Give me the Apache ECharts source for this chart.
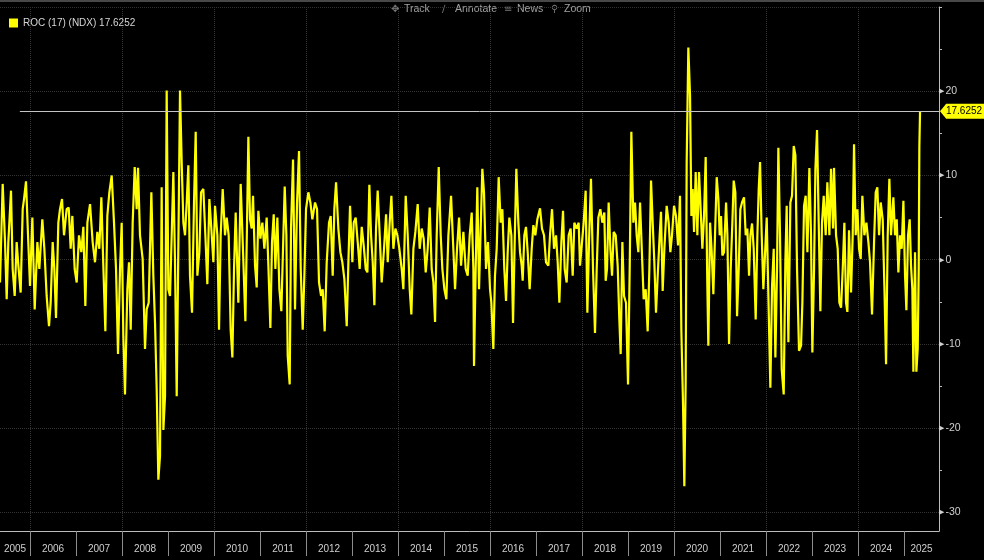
<!DOCTYPE html>
<html><head><meta charset="utf-8">
<script src="https://cdn.jsdelivr.net/npm/echarts@6/dist/echarts.min.js"></script>
<style>html,body{margin:0;padding:0;background:#000;}#c{width:984px;height:560px;}</style>
</head><body><div id="c"></div>
<script>
const seriesName = 'ROC (17) (NDX)';
// fractional-year dates of the points
const dates = [
2005.348,2005.406,2005.457,2005.493,2005.529,2005.587,2005.623,2005.667,2005.710,2005.747,2005.797,2005.841,2005.870,2005.913,2005.957,
2006.000,2006.051,2006.102,2006.160,2006.203,2006.268,2006.312,2006.362,2006.413,2006.449,2006.493,2006.529,2006.565,2006.616,2006.652,2006.696,2006.739,2006.797,2006.841,2006.884,2006.920,2006.971,
2007.015,2007.065,2007.116,2007.160,2007.203,2007.247,2007.305,2007.362,2007.413,2007.464,2007.507,2007.551,2007.594,2007.638,2007.681,2007.725,2007.776,2007.826,2007.870,2007.913,2007.957,2007.993,
2008.029,2008.065,2008.116,2008.152,2008.189,2008.232,2008.276,2008.319,2008.348,2008.391,2008.449,2008.500,2008.536,2008.580,2008.638,2008.681,2008.718,2008.754,2008.790,2008.826,2008.862,2008.899,2008.935,2008.971,
2009.007,2009.044,2009.080,2009.116,2009.152,2009.189,2009.225,2009.261,2009.297,2009.334,2009.370,2009.406,2009.442,2009.478,2009.522,2009.565,2009.602,2009.638,2009.681,2009.718,2009.768,2009.812,2009.855,2009.899,2009.942,2009.986,
2010.022,2010.073,2010.109,2010.145,2010.189,2010.239,2010.276,2010.319,2010.362,2010.399,2010.435,2010.471,2010.529,2010.580,2010.624,2010.682,2010.718,2010.747,2010.783,2010.819,2010.848,2010.892,2010.928,2010.964,
2011.008,2011.051,2011.095,2011.145,2011.182,2011.225,2011.261,2011.298,2011.334,2011.377,2011.421,2011.464,2011.508,2011.537,2011.573,2011.602,2011.645,2011.674,2011.718,2011.761,2011.805,2011.848,2011.885,2011.928,2011.964,
2012.000,2012.051,2012.095,2012.138,2012.196,2012.240,2012.283,2012.327,2012.363,2012.406,2012.450,2012.500,2012.537,2012.580,2012.616,2012.653,2012.703,2012.747,2012.790,2012.834,2012.885,2012.921,2012.957,
2013.008,2013.037,2013.080,2013.124,2013.167,2013.211,2013.254,2013.298,2013.334,2013.377,2013.414,2013.450,2013.486,2013.522,2013.558,2013.602,2013.645,2013.696,2013.740,2013.776,2013.819,2013.856,2013.899,2013.943,2013.986,
2014.029,2014.080,2014.116,2014.167,2014.211,2014.254,2014.290,2014.334,2014.377,2014.428,2014.471,2014.515,2014.558,2014.602,2014.645,2014.689,2014.732,2014.769,2014.805,2014.841,2014.885,2014.928,2014.964,
2015.008,2015.051,2015.095,2015.153,2015.196,2015.240,2015.283,2015.327,2015.370,2015.421,2015.471,2015.515,2015.558,2015.602,2015.638,2015.652,2015.688,2015.724,2015.761,2015.797,2015.833,2015.869,2015.913,2015.956,
2016.000,2016.029,2016.072,2016.108,2016.145,2016.188,2016.232,2016.268,2016.311,2016.348,2016.384,2016.420,2016.464,2016.500,2016.536,2016.572,2016.616,2016.652,2016.688,2016.710,2016.746,2016.782,2016.819,2016.862,2016.906,2016.942,2016.985,
2017.029,2017.087,2017.130,2017.174,2017.217,2017.268,2017.304,2017.348,2017.391,2017.435,2017.471,2017.507,2017.551,2017.587,2017.623,2017.666,2017.710,2017.753,2017.797,2017.833,2017.884,2017.927,2017.956,
2018.000,2018.036,2018.079,2018.116,2018.152,2018.195,2018.239,2018.282,2018.319,2018.355,2018.398,2018.442,2018.485,2018.514,2018.543,2018.579,2018.616,2018.652,2018.688,2018.732,2018.775,2018.811,2018.840,2018.877,2018.913,2018.956,
2019.000,2019.036,2019.072,2019.116,2019.152,2019.188,2019.224,2019.261,2019.304,2019.340,2019.384,2019.427,2019.464,2019.500,2019.536,2019.572,2019.608,2019.652,2019.688,2019.717,2019.753,2019.790,2019.840,2019.884,2019.920,2019.956,
2020.000,2020.043,2020.087,2020.130,2020.159,2020.195,2020.224,2020.253,2020.275,2020.311,2020.348,2020.377,2020.406,2020.435,2020.471,2020.507,2020.543,2020.579,2020.616,2020.652,2020.688,2020.724,2020.746,2020.783,2020.819,2020.855,2020.891,2020.928,2020.964,2020.993,
2021.022,2021.051,2021.087,2021.131,2021.160,2021.196,2021.232,2021.268,2021.297,2021.333,2021.370,2021.406,2021.442,2021.478,2021.522,2021.558,2021.594,2021.631,2021.660,2021.696,2021.732,2021.775,2021.812,2021.841,2021.870,2021.906,2021.942,2021.978,
2022.015,2022.051,2022.094,2022.131,2022.167,2022.203,2022.239,2022.268,2022.304,2022.341,2022.384,2022.420,2022.449,2022.486,2022.529,2022.565,2022.602,2022.638,2022.674,2022.717,2022.761,2022.790,2022.826,2022.862,2022.899,2022.942,2022.978,
2023.007,2023.044,2023.073,2023.109,2023.145,2023.181,2023.217,2023.254,2023.297,2023.333,2023.377,2023.413,2023.457,2023.478,2023.522,2023.558,2023.594,2023.631,2023.667,2023.703,2023.739,2023.768,2023.804,2023.848,2023.884,2023.913,2023.949,2023.986,
2024.022,2024.058,2024.094,2024.138,2024.181,2024.225,2024.261,2024.304,2024.348,2024.384,2024.420,2024.457,2024.493,2024.536,2024.573,2024.609,2024.645,2024.681,2024.717,2024.768,2024.804,2024.841,2024.877,2024.913,2024.949,2024.986,
2025.022,2025.051,2025.087,2025.123,2025.152,2025.181,2025.203,2025.239,2025.268,2025.297,2025.319,2025.333,2025.348
];
// ROC (17) values, in percent
const roc = [
-2.7,9.0,2.1,-4.7,2.1,8.2,-1.1,-4.3,2.1,-0.7,-3.9,6.0,7.2,9.3,2.9,
-3.1,5.0,-5.9,2.1,-1.1,4.8,1.3,-4.3,-7.9,-5.1,2.1,-1.1,-6.9,4.4,6.0,7.2,2.9,6.0,6.2,1.3,5.2,-1.1,
-2.7,2.9,0.9,3.9,-5.5,4.4,6.6,2.1,-0.3,3.3,1.3,7.4,-0.7,-8.5,5.2,8.0,10.0,4.4,-1.1,-11.2,-1.1,4.4,
-9.1,-16.0,-3.5,-0.3,-8.3,4.4,11.0,6.0,10.9,2.9,0.1,-10.6,-5.9,-5.1,8.0,-1.9,-7.5,-15.4,-26.1,-23.3,8.6,-20.2,-16.2,20.1,
-3.5,-4.3,2.9,10.4,-0.3,-16.2,1.7,20.1,11.6,4.4,2.9,6.8,11.2,-1.9,-6.3,6.8,15.2,-1.9,0.9,8.0,8.4,2.9,-2.9,7.2,3.7,-0.3,
6.4,2.9,-8.3,2.9,8.4,2.9,5.0,2.9,-8.3,-11.6,-1.1,5.6,-5.1,9.0,2.1,-7.3,4.4,14.6,4.8,3.7,7.6,-0.7,-3.3,5.8,
2.5,4.4,1.3,5.0,-0.7,-8.1,2.1,5.4,-1.1,5.0,-3.5,-6.1,2.9,8.7,2.9,-11.4,-14.8,3.7,11.9,-5.9,6.8,12.9,-1.1,-8.3,-1.9,
6.0,8.0,6.8,4.8,6.8,6.0,-2.7,-4.3,-3.5,-8.5,-0.3,4.4,5.2,-1.9,6.0,9.2,3.7,0.9,-0.3,-2.3,-7.9,-0.3,6.4,
-0.3,4.4,5.0,2.1,-1.1,3.9,1.7,-1.1,-1.5,8.9,2.9,-0.3,-5.4,3.7,8.2,2.9,-2.7,1.3,5.4,-0.3,4.4,7.6,1.3,3.7,2.9,
1.3,-1.1,-3.5,7.6,2.9,-3.5,-6.5,1.3,3.3,6.6,1.3,3.7,2.5,-1.5,1.3,6.2,-1.1,-2.7,-7.4,2.9,11.0,2.9,-1.1,
-3.5,-4.7,2.9,7.6,2.1,-3.5,1.3,5.0,-0.7,3.3,-1.1,-1.9,2.9,5.6,-1.1,-12.6,-1.1,8.6,-3.5,3.7,10.8,8.0,-1.1,2.1,
-3.5,-5.1,-10.6,-1.9,1.3,9.8,4.4,6.0,-1.1,-4.9,0.9,5.0,2.9,-7.5,2.1,10.8,4.4,0.9,-0.7,-2.5,2.9,3.9,0.9,-3.5,1.3,4.1,2.9,
4.8,6.1,3.7,2.9,-0.3,-0.7,2.9,6.0,1.3,2.9,-0.3,-5.1,2.1,5.8,-1.1,-2.7,2.9,3.7,-1.9,4.4,3.7,4.4,-0.7,
2.1,4.4,8.2,-6.3,2.1,9.6,-1.1,-8.7,-1.1,5.0,6.0,4.4,5.6,-2.5,-1.1,6.8,1.3,-1.9,3.3,2.9,-0.7,-7.1,-11.2,2.1,-4.3,-5.1,
-14.8,-1.1,15.2,4.4,6.8,2.9,0.9,6.8,6.8,-4.7,-3.5,-8.5,-1.1,9.4,4.4,-0.3,-6.3,-1.1,2.9,5.7,-3.7,1.3,6.4,4.4,0.9,2.9,
6.4,5.2,1.7,7.6,-8.3,-17.0,-26.9,-14.6,11.6,25.2,19.5,5.2,8.4,3.3,10.4,2.9,10.4,10.4,1.3,5.2,12.2,-3.1,-10.2,4.4,0.9,-4.1,2.9,9.8,7.2,2.9,
5.2,0.5,0.9,6.8,2.9,-10.0,-1.1,4.4,9.4,8.0,-6.7,-1.1,6.0,6.8,7.4,2.9,3.7,-1.9,2.9,4.3,1.3,-7.1,2.9,8.4,11.6,2.9,-3.5,-3.5,
5.0,-4.3,-15.2,-3.1,1.3,-11.6,-1.1,13.3,2.9,-13.0,-16.0,-0.3,6.4,-9.8,6.8,7.6,13.5,12.4,-1.1,-10.8,-10.2,-5.1,6.4,7.6,0.9,10.9,2.9,
-11.0,-1.1,10.8,15.4,4.4,-6.1,4.4,7.6,2.9,9.2,2.9,10.8,3.7,10.9,2.9,1.3,-5.1,-5.7,-1.1,4.4,-5.1,-6.2,3.5,-3.9,2.9,13.7,2.9,6.0,
1.3,0.1,7.6,2.9,4.4,2.1,-0.3,-6.5,2.1,8.0,8.6,2.9,6.8,4.8,-3.1,-12.4,2.9,9.6,2.9,7.4,2.9,4.8,-1.5,2.9,1.3,7.0,
-1.9,-6.0,2.9,4.8,-0.7,-3.5,-13.3,0.9,-13.3,-10.6,-1.1,13.4,17.6252
];
const yearLabels = ['2005','2006','2007','2008','2009','2010','2011','2012','2013','2014','2015','2016','2017','2018','2019','2020','2021','2022','2023','2024','2025'];
const yTickValues = [-30,-25,-20,-15,-10,-5,0,5,10,15,20,25,30];
const yLabelValues = [-30,-20,-10,0,10,20];
const toolbarItems = [['\u2725','Track',391],['\u2215','Annotate',442],['\u2261','News',504],['\u26B2','Zoom',551]];

const xMin = 2004, xMax = 2025.76, yMin = -32.2, yMax = 30;
const lastLineStart = 2005.78;
const lastValue = roc[roc.length - 1];
const data = dates.map((d, i) => [d, roc[i]]);
const yearTicks = yearLabels.map(Number);
const yearLabelPos = yearTicks.map(y => (Math.max(y, dates[0]) + Math.min(y + 1, xMax)) / 2);

const chart = echarts.init(document.getElementById('c'), null, {renderer: 'canvas'});
const FONT = 'Liberation Sans';
const graphic = [
  {type: 'rect', shape: {x: 0, y: 0, width: 984, height: 2}, style: {fill: '#484848'}, silent: true}
];
toolbarItems.forEach(([icon, label, x]) => {
  graphic.push({type: 'text', x: x, y: 9, silent: true,
    style: {text: icon, fill: '#7a7a7a', font: '10px "DejaVu Sans"', verticalAlign: 'middle'}});
  graphic.push({type: 'text', x: x + 13, y: 9, silent: true,
    style: {text: label, fill: '#a0a0a0', font: '10.5px "Liberation Sans"', verticalAlign: 'middle'}});
});

chart.setOption({
  backgroundColor: '#000000',
  animation: false,
  textStyle: {fontFamily: FONT},
  legend: {
    left: 4, top: 13, icon: 'rect', itemWidth: 9, itemHeight: 9, selectedMode: false,
    textStyle: {color: '#d6d6d6', fontSize: 10, fontFamily: FONT},
    formatter: n => n + ' ' + lastValue,
    data: [seriesName]
  },
  grid: {left: -62, right: 45, top: 7, bottom: 29, containLabel: false, outerBoundsMode: 'none'},
  xAxis: [
    {
      type: 'value', min: xMin, max: xMax, position: 'bottom',
      axisLine: {show: true, onZero: false, lineStyle: {color: '#bcbcbc', width: 1}},
      axisTick: {show: true, customValues: yearTicks, length: 25, lineStyle: {color: '#8c8c8c'}},
      axisLabel: {customValues: yearLabelPos, formatter: v => String(Math.floor(v)), color: '#cfcfcf', fontSize: 10, margin: 13, fontFamily: FONT},
      splitLine: {show: false}
    },
    {
      type: 'value', min: xMin, max: xMax, interval: 2, position: 'bottom',
      axisLine: {show: false, onZero: false}, axisTick: {show: false}, axisLabel: {show: false},
      splitLine: {show: true, lineStyle: {color: '#333333', type: 'dotted', width: 1}}
    }
  ],
  yAxis: [
    {
      type: 'value', min: yMin, max: yMax, position: 'right',
      axisLine: {show: true, onZero: false, lineStyle: {color: '#bcbcbc', width: 1}},
      axisTick: {show: true, customValues: yTickValues, length: 3, lineStyle: {color: '#bcbcbc'}},
      axisLabel: {
        customValues: yLabelValues, margin: 0,
        formatter: v => '{t|\u25B6}{v|' + v + '}',
        rich: {t: {fontSize: 7, color: '#d0d0d0', fontFamily: 'DejaVu Sans'}, v: {fontSize: 10.5, color: '#cfcfcf', padding: [0, 0, 0, 1], fontFamily: FONT}}
      },
      splitLine: {show: false}
    },
    {
      type: 'value', min: yMin, max: yMax, position: 'right',
      axisLine: {show: false, onZero: false}, axisTick: {show: false}, axisLabel: {show: false},
      splitLine: {show: true, lineStyle: {color: '#333333', type: 'dotted', width: 1}}
    }
  ],
  series: [{
    name: seriesName, type: 'line', xAxisIndex: 0, yAxisIndex: 0, data: data,
    showSymbol: false, symbol: 'none', clip: true,
    lineStyle: {color: '#ffff00', width: 2.2},
    itemStyle: {color: '#ffff00'},
    markLine: {
      silent: true, symbol: ['none', 'none'], label: {show: false},
      lineStyle: {color: '#c4c4c4', width: 1, type: 'solid'},
      data: [[{coord: [lastLineStart, lastValue]}, {coord: [xMax, lastValue]}]]
    },
    markPoint: {
      silent: true,
      symbol: 'path://M0,7L7,0L50,0L50,14L7,14Z', symbolKeepAspect: false,
      symbolSize: [44, 15], symbolOffset: [23, 0],
      itemStyle: {color: '#ffff00'},
      label: {show: true, position: 'inside', formatter: String(lastValue), color: '#000', fontSize: 10, fontFamily: FONT, offset: [2, 0]},
      data: [{coord: [xMax, lastValue]}]
    }
  }],
  graphic: graphic
});
</script>
</body></html>
